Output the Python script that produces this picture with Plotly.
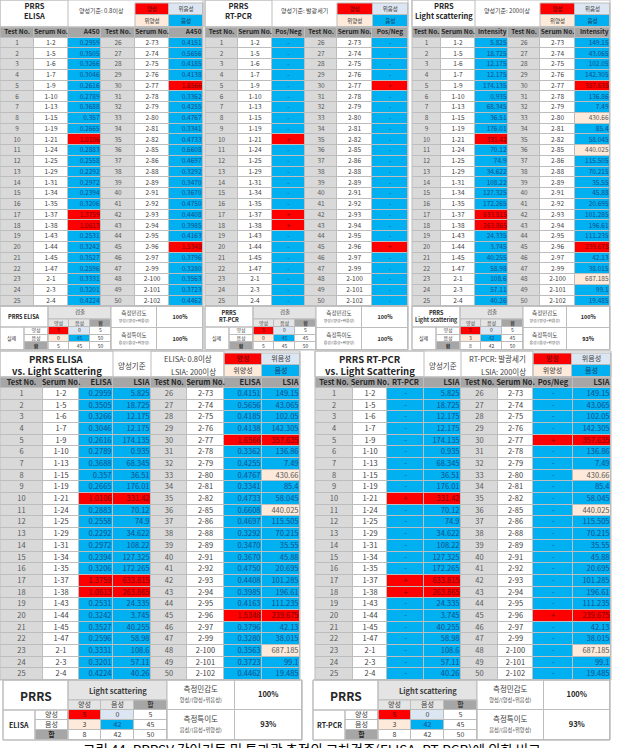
import plotly.graph_objects as go

W, H = 620, 748
FONT = "Noto Sans CJK KR"

# ---------------- data ----------------
test_no_1 = [str(i) for i in range(1, 26)]
test_no_2 = [str(i) for i in range(26, 51)]
serum_no_1 = ["1-2", "1-5", "1-6", "1-7", "1-9", "1-10", "1-13", "1-15", "1-19", "1-21", "1-24", "1-25", "1-29",
              "1-31", "1-34", "1-35", "1-37", "1-38", "1-43", "1-44", "1-45", "1-47", "2-1", "2-3", "2-4"]
serum_no_2 = ["2-73", "2-74", "2-75", "2-76", "2-77", "2-78", "2-79", "2-80", "2-81", "2-82", "2-85", "2-86", "2-88",
              "2-89", "2-91", "2-92", "2-93", "2-94", "2-95", "2-96", "2-97", "2-99", "2-100", "2-101", "2-102"]
elisa_1 = ["0.2959", "0.3505", "0.3266", "0.3046", "0.2616", "0.2789", "0.3688", "0.357", "0.2665", "1.0106",
           "0.2883", "0.2558", "0.2292", "0.2972", "0.2394", "0.3206", "1.3759", "1.0613", "0.2531", "0.3242",
           "0.3527", "0.2596", "0.3331", "0.3201", "0.4224"]
elisa_2 = ["0.4151", "0.5656", "0.4185", "0.4138", "1.6566", "0.3362", "0.4255", "0.4767", "0.3341", "0.4733",
           "0.6608", "0.4697", "0.3292", "0.3470", "0.3670", "0.4750", "0.4408", "0.3985", "0.4163", "1.5348",
           "0.3796", "0.3280", "0.3563", "0.3723", "0.4462"]
pcr_1 = ["-", "-", "-", "-", "-", "-", "-", "-", "-", "+", "-", "-", "-", "-", "-", "-", "+", "+", "-", "-",
         "-", "-", "-", "-", "-"]
pcr_2 = ["-", "-", "-", "-", "+", "-", "-", "-", "-", "-", "-", "-", "-", "-", "-", "-", "-", "-", "-", "+",
         "-", "-", "-", "-", "-"]
lsia_1 = ["5.825", "18.725", "12.175", "12.175", "174.135", "0.935", "68.345", "36.51", "176.01", "331.42",
          "70.12", "74.9", "34.622", "108.22", "127.325", "172.265", "633.815", "263.865", "24.335", "3.745",
          "40.255", "58.98", "108.6", "57.11", "40.26"]
lsia_2 = ["149.15", "43.065", "102.05", "142.305", "357.635", "136.86", "7.49", "430.66", "85.4", "58.045",
          "440.025", "115.505", "70.215", "35.55", "45.88", "20.695", "101.285", "196.61", "111.235", "239.675",
          "42.13", "38.015", "687.185", "99.1", "19.485"]

ELISA_CUT = 0.8
LSIA_CUT = 200

# confusion tables: rows = 양성/음성/합, cols = 양성/음성/합
cm_elisa = [[5, 0, 5], [0, 45, 50], [5, 45, 50]]
cm_pcr = [[5, 0, 5], [0, 45, 45], [5, 45, 50]]
cm_ls = [[5, 0, 5], [3, 42, 45], [8, 42, 50]]
cm_elisa_ls = [[5, 0, 5], [3, 42, 45], [8, 42, 50]]
cm_pcr_ls = [[5, 0, 5], [3, 42, 45], [8, 42, 50]]
sens_spec_elisa = ["100%", "100%"]
sens_spec_pcr = ["100%", "100%"]
sens_spec_ls = ["100%", "93%"]
sens_spec_elisa_ls = ["100%", "93%"]
sens_spec_pcr_ls = ["100%", "93%"]

# ---------------- styles ----------------
RED = "#ff0000"
BLUE = "#00b0f0"
BEIGE = "#fdeada"
LAV = "#dce6f2"
WHITE = "#ffffff"
GRAY_H = "#a6a6a6"
GRAY_C = "#d9d9d9"
GRAY_L = "#e4e4e4"
LINE = "#bdbdbd"
PAL = [WHITE, GRAY_C, GRAY_H, RED, BLUE, BEIGE, LAV, GRAY_L]
CIDX = {c: i for i, c in enumerate(PAL)}
CS = []
for i, c in enumerate(PAL):
    CS.append([i / len(PAL), c])
    CS.append([(i + 1) / len(PAL), c])
TXT = {RED: "#7a0000", BLUE: "#0d4f8f", BEIGE: "#595959", LAV: "#0d4f8f", WHITE: "#404040",
       GRAY_C: "#595959", GRAY_H: "#262626", GRAY_L: "#404040"}

fig = go.Figure()
axn = [0]


def grid(xe, ye, colors, texts, aligns, fs, fcolors=None):
    """Draw a block of cells as a heatmap with its own axes (pixel units) and cell texts."""
    axn[0] += 1
    k = axn[0]
    xs, ys = ("x", "y") if k == 1 else ("x%d" % k, "y%d" % k)
    xk, yk = ("xaxis", "yaxis") if k == 1 else ("xaxis%d" % k, "yaxis%d" % k)
    fig.update_layout({
        xk: dict(domain=[xe[0] / W, xe[-1] / W], range=[xe[0], xe[-1]], visible=False, fixedrange=True,
                 anchor=ys),
        yk: dict(domain=[1 - ye[-1] / H, 1 - ye[0] / H], range=[ye[-1], ye[0]], visible=False,
                 fixedrange=True, anchor=xs),
    })
    z = [[CIDX[c] for c in row] for row in colors]
    fig.add_trace(go.Heatmap(x=xe, y=ye, z=z, xaxis=xs, yaxis=ys, colorscale=CS, zmin=-0.5,
                             zmax=len(PAL) - 0.5, showscale=False, xgap=1, ygap=1, hoverinfo="skip"))
    tx, ty, tt, tc, tp = [], [], [], [], []
    for r, row in enumerate(texts):
        for c, t in enumerate(row):
            if t == "":
                continue
            if aligns[c] == "right":
                tx.append(xe[c + 1] - 1.5)
                tp.append("middle left")
            else:
                tx.append((xe[c] + xe[c + 1]) / 2)
                tp.append("middle center")
            ty.append((ye[r] + ye[r + 1]) / 2 + 0.3)
            tt.append(t)
            tc.append(fcolors[r][c] if fcolors else TXT.get(colors[r][c], "#404040"))
    fig.add_trace(go.Scatter(x=tx, y=ty, text=tt, mode="text", textposition=tp, xaxis=xs, yaxis=ys,
                             textfont=dict(family=FONT, size=fs, color=tc), hoverinfo="skip",
                             cliponaxis=False, showlegend=False))
    box(xe[0], ye[0], xe[-1], ye[-1])


def edges(x0, widths):
    out = [x0]
    for w in widths:
        out.append(out[-1] + w)
    return out


def ann(x, y, text, size, color="#262626", xanchor="center"):
    fig.add_annotation(x=x / W, y=1 - y / H, xref="paper", yref="paper", text=text, showarrow=False,
                       xanchor=xanchor, yanchor="middle", font=dict(family=FONT, size=size, color=color))


def box(x0, y0, x1, y1, fill=None):
    fig.add_shape(type="rect", xref="paper", yref="paper", x0=x0 / W, x1=x1 / W, y0=1 - y1 / H, y1=1 - y0 / H,
                  line=dict(color=LINE, width=1), fillcolor=fill if fill else "rgba(0,0,0,0)",
                  layer="below" if fill else "above")


def fill_elisa(vals):
    return [RED if float(v) >= ELISA_CUT else BLUE for v in vals]


def fill_pcr(vals):
    return [RED if v == "+" else BLUE for v in vals]


def fill_lsia(vals, truth):
    out = []
    for v, t in zip(vals, truth):
        pos = float(v) >= LSIA_CUT
        out.append(RED if (pos and t) else BEIGE if pos else LAV if t else BLUE)
    return out


truth_1 = [p == "+" for p in pcr_1]
truth_2 = [p == "+" for p in pcr_2]


def legend(x0, x1, y0, y1, fs):
    xm, ym = (x0 + x1) / 2, (y0 + y1) / 2
    grid([x0, xm, x1], [y0, ym, y1], [[RED, LAV], [BEIGE, BLUE]], [["양성", "위음성"], ["위양성", "음성"]],
         ["center", "center"], fs, fcolors=[["#5a0000", "#404040"], ["#404040", "#1f3a5a"]])


def table_rows(headers, cols, fills):
    colors = [[GRAY_H] * len(cols)]
    texts = [["<b>%s</b>" % h for h in headers]]
    for r in range(len(cols[0])):
        colors.append([f[r] for f in fills])
        texts.append([c[r] for c in cols])
    return colors, texts


G = [GRAY_C] * 25
Wc = [WHITE] * 25

# ---------------- top three tables ----------------
TOP_Y, TOP_HH, TOP_CH = 27, 10.5, 10.75
top_specs = [
    (0, [34, 34, 33, 34, 34, 34], "A450", elisa_1, elisa_2, fill_elisa(elisa_1), fill_elisa(elisa_2), "right",
     "<b>PRRS</b><br><b>ELISA</b>", "양성기준: 0.8이상"),
    (205, [33, 34, 33, 32, 35, 36], "Pos/Neg", pcr_1, pcr_2, fill_pcr(pcr_1), fill_pcr(pcr_2), "center",
     "<b>PRRS</b><br><b>RT-PCR</b>", "양성기준: 발광세기"),
    (412, [29, 34, 33, 32, 35, 35], "Intensity", lsia_1, lsia_2, fill_lsia(lsia_1, truth_1),
     fill_lsia(lsia_2, truth_2), "right", "<b>PRRS</b><br><b>Light scattering</b>", "양성기준: 200이상"),
]
for ox, widths, vname, v1, v2, f1, f2, al, title, crit in top_specs:
    tot = sum(widths)
    xe = edges(ox, widths)
    ye = edges(TOP_Y, [TOP_HH] + [TOP_CH] * 25)
    colors, texts = table_rows(["Test No.", "Serum No.", vname] * 2,
                               [test_no_1, serum_no_1, v1, test_no_2, serum_no_2, v2],
                               [G, Wc, f1, G, Wc, f2])
    grid(xe, ye, colors, texts, ["center", "center", al, "center", "center", al], 6.5)
    lx = xe[4]
    box(ox, 0, ox + tot, TOP_Y)
    box(ox, 0, xe[2], TOP_Y)
    ann((ox + xe[2]) / 2, 10, title, 7.5)
    ann((xe[2] + lx) / 2, 10, crit, 6, "#404040")
    legend(lx, ox + tot, 3, TOP_Y, 5.5)

# ---------------- summary tables ----------------


def summary(oy, ox, tot, name, rowname, cm, ss, top_label, dims):
    # dims: label col w, rowlabel col w, value col w, head h, sub h, row h, name size, font size
    lw, rw, vw, hh, sh, rh, nsz, fs = dims
    gx0 = ox + lw + rw
    gx1 = gx0 + 3 * vw
    y_sub = oy + hh
    y_dat = y_sub + sh
    y_end = y_dat + 3 * rh
    box(ox, oy, ox + tot, y_end)
    box(ox, oy, gx0, y_dat)
    ann((ox + gx0) / 2, (oy + y_dat) / 2, name, nsz)
    box(gx0, oy, gx1, y_sub, GRAY_L)
    ann((gx0 + gx1) / 2, (oy + y_sub) / 2, top_label, fs + 0.5, "#404040")
    colors = [[GRAY_L, GRAY_L, GRAY_H], [RED, LAV, WHITE], [BEIGE, BLUE, WHITE], [WHITE, WHITE, WHITE]]
    texts = [["양성", "음성", "<b>합</b>"]] + [[str(v) for v in row] for row in cm]
    grid(edges(gx0, [vw] * 3), [y_sub, y_dat, y_dat + rh, y_dat + 2 * rh, y_end], colors, texts,
         ["center"] * 3, fs, fcolors=[["#404040"] * 3, ["#5a0000", "#404040", "#404040"],
                                      ["#404040", "#0d4f8f", "#404040"], ["#404040"] * 3])
    grid([ox + lw, gx0], [y_dat, y_dat + rh, y_dat + 2 * rh, y_end], [[WHITE], [WHITE], [GRAY_H]],
         [["양성"], ["음성"], ["<b>합</b>"]], ["center"], fs)
    box(ox, y_dat, ox + lw, y_end)
    ann(ox + lw / 2, (y_dat + y_end) / 2, rowname, fs)
    mw = ox + tot - gx1
    ym = (oy + y_end) / 2
    grid([gx1, gx1 + mw * 0.5, ox + tot], [oy, ym, y_end], [[WHITE, WHITE], [WHITE, WHITE]],
         [['측정민감도<br><span style="font-size:%.1fpx">양성/(양성+위음성)</span>' % (fs * 0.75),
           "<b>%s</b>" % ss[0]],
          ['측정특이도<br><span style="font-size:%.1fpx">음성/(음성+위양성)</span>' % (fs * 0.75),
           "<b>%s</b>" % ss[1]]],
         ["center", "center"], fs + 0.5, fcolors=[["#404040", "#262626"], ["#404040", "#262626"]])


SY = 306
small = (24, 24, 21, 13, 8, 7.6, 5.5, 5)
summary(SY, 0, 203, "<b>PRRS ELISA</b>", "실제", cm_elisa, sens_spec_elisa, "검출", small)
summary(SY, 205, 203, "<b>PRRS</b><br><b>RT-PCR</b>", "실제", cm_pcr, sens_spec_pcr, "검출", small)
summary(SY, 412, 198, "<b>PRRS</b><br><b>Light scattering</b>", "실제", cm_ls, sens_spec_ls, "검출", small)

# ---------------- middle comparison tables ----------------
MID_TY, MID_Y, MID_HH, MID_CH = 351, 377, 11, 11.68
mid_specs = [
    (0, [43, 36, 34, 38, 36, 37, 38, 38], ["ELISA", "LSIA", "ELISA", "LSIA"], elisa_1, elisa_2,
     fill_elisa(elisa_1), fill_elisa(elisa_2), "right",
     ["<b>PRRS ELISA</b>", "<b>vs. Light Scattering</b>"], ["ELISA: 0.8이상", "LSIA: 200이상"], [113, 151, 224]),
    (315, [38, 34, 37, 37, 37, 35, 40, 38], ["RT-PCR", "LSIA", "Pos/Neg", "LSIA"], pcr_1, pcr_2,
     fill_pcr(pcr_1), fill_pcr(pcr_2), "center",
     ["<b>PRRS RT-PCR</b>", "<b>vs. Light Scattering</b>"], ["RT-PCR: 발광세기", "LSIA: 200이상"], [424, 461, 533]),
]
for ox, widths, names, v1, v2, f1, f2, al, title, crit, seps in mid_specs:
    tot = sum(widths)
    xe = edges(ox, widths)
    ye = edges(MID_Y, [MID_HH] + [MID_CH] * 25)
    colors, texts = table_rows(["Test No.", "Serum No.", names[0], names[1],
                                "Test No.", "Serum No.", names[2], names[3]],
                               [test_no_1, serum_no_1, v1, lsia_1, test_no_2, serum_no_2, v2, lsia_2],
                               [G, Wc, f1, fill_lsia(lsia_1, truth_1), G, Wc, f2, fill_lsia(lsia_2, truth_2)])
    grid(xe, ye, colors, texts, ["center", "center", al, "right", "center", "center", al, "right"], 7.5)
    box(ox, MID_TY, ox + tot, MID_Y)
    box(ox, MID_TY, seps[0], MID_Y)
    box(seps[1], MID_TY, seps[2], MID_Y)
    ann((ox + seps[0]) / 2, MID_TY + 7.5, title[0], 9.5)
    ann((ox + seps[0]) / 2, MID_TY + 20, title[1], 9.5)
    ann((seps[0] + seps[1]) / 2, MID_TY + 14, "양성기준", 7.5, "#404040")
    ann((seps[1] + seps[2]) / 2, MID_TY + 7.5, crit[0], 7.5, "#404040")
    ann((seps[1] + seps[2]) / 2 + 6, MID_TY + 20, crit[1], 7.5, "#404040")
    legend(seps[2], ox + tot, MID_TY + 2, MID_Y, 7)

# ---------------- bottom summary tables ----------------
BY = 680
big = (32, 33, 33, 20, 10, 10, 12, 7)
summary(BY, 3, 299, "<b>PRRS</b>", "<b>ELISA</b>", cm_elisa_ls, sens_spec_elisa_ls, "<b>Light scattering</b>", big)
summary(BY, 313, 297, "<b>PRRS</b>", "<b>RT-PCR</b>", cm_pcr_ls, sens_spec_pcr_ls, "<b>Light scattering</b>", big)

ann(312, 749, "그림 44. PRRSV 간이키트 및 투과광 측정의 교차검증(ELISA, RT-PCR)에 의한 비교", 13.5, "#000000")

fig.update_layout(width=W, height=H, margin=dict(l=0, r=0, t=0, b=0), paper_bgcolor="white",
                  plot_bgcolor=LINE, showlegend=False)
fig.write_html("out.html", post_script="document.body.style.margin='0';",
               config={"displayModeBar": False, "staticPlot": True})
